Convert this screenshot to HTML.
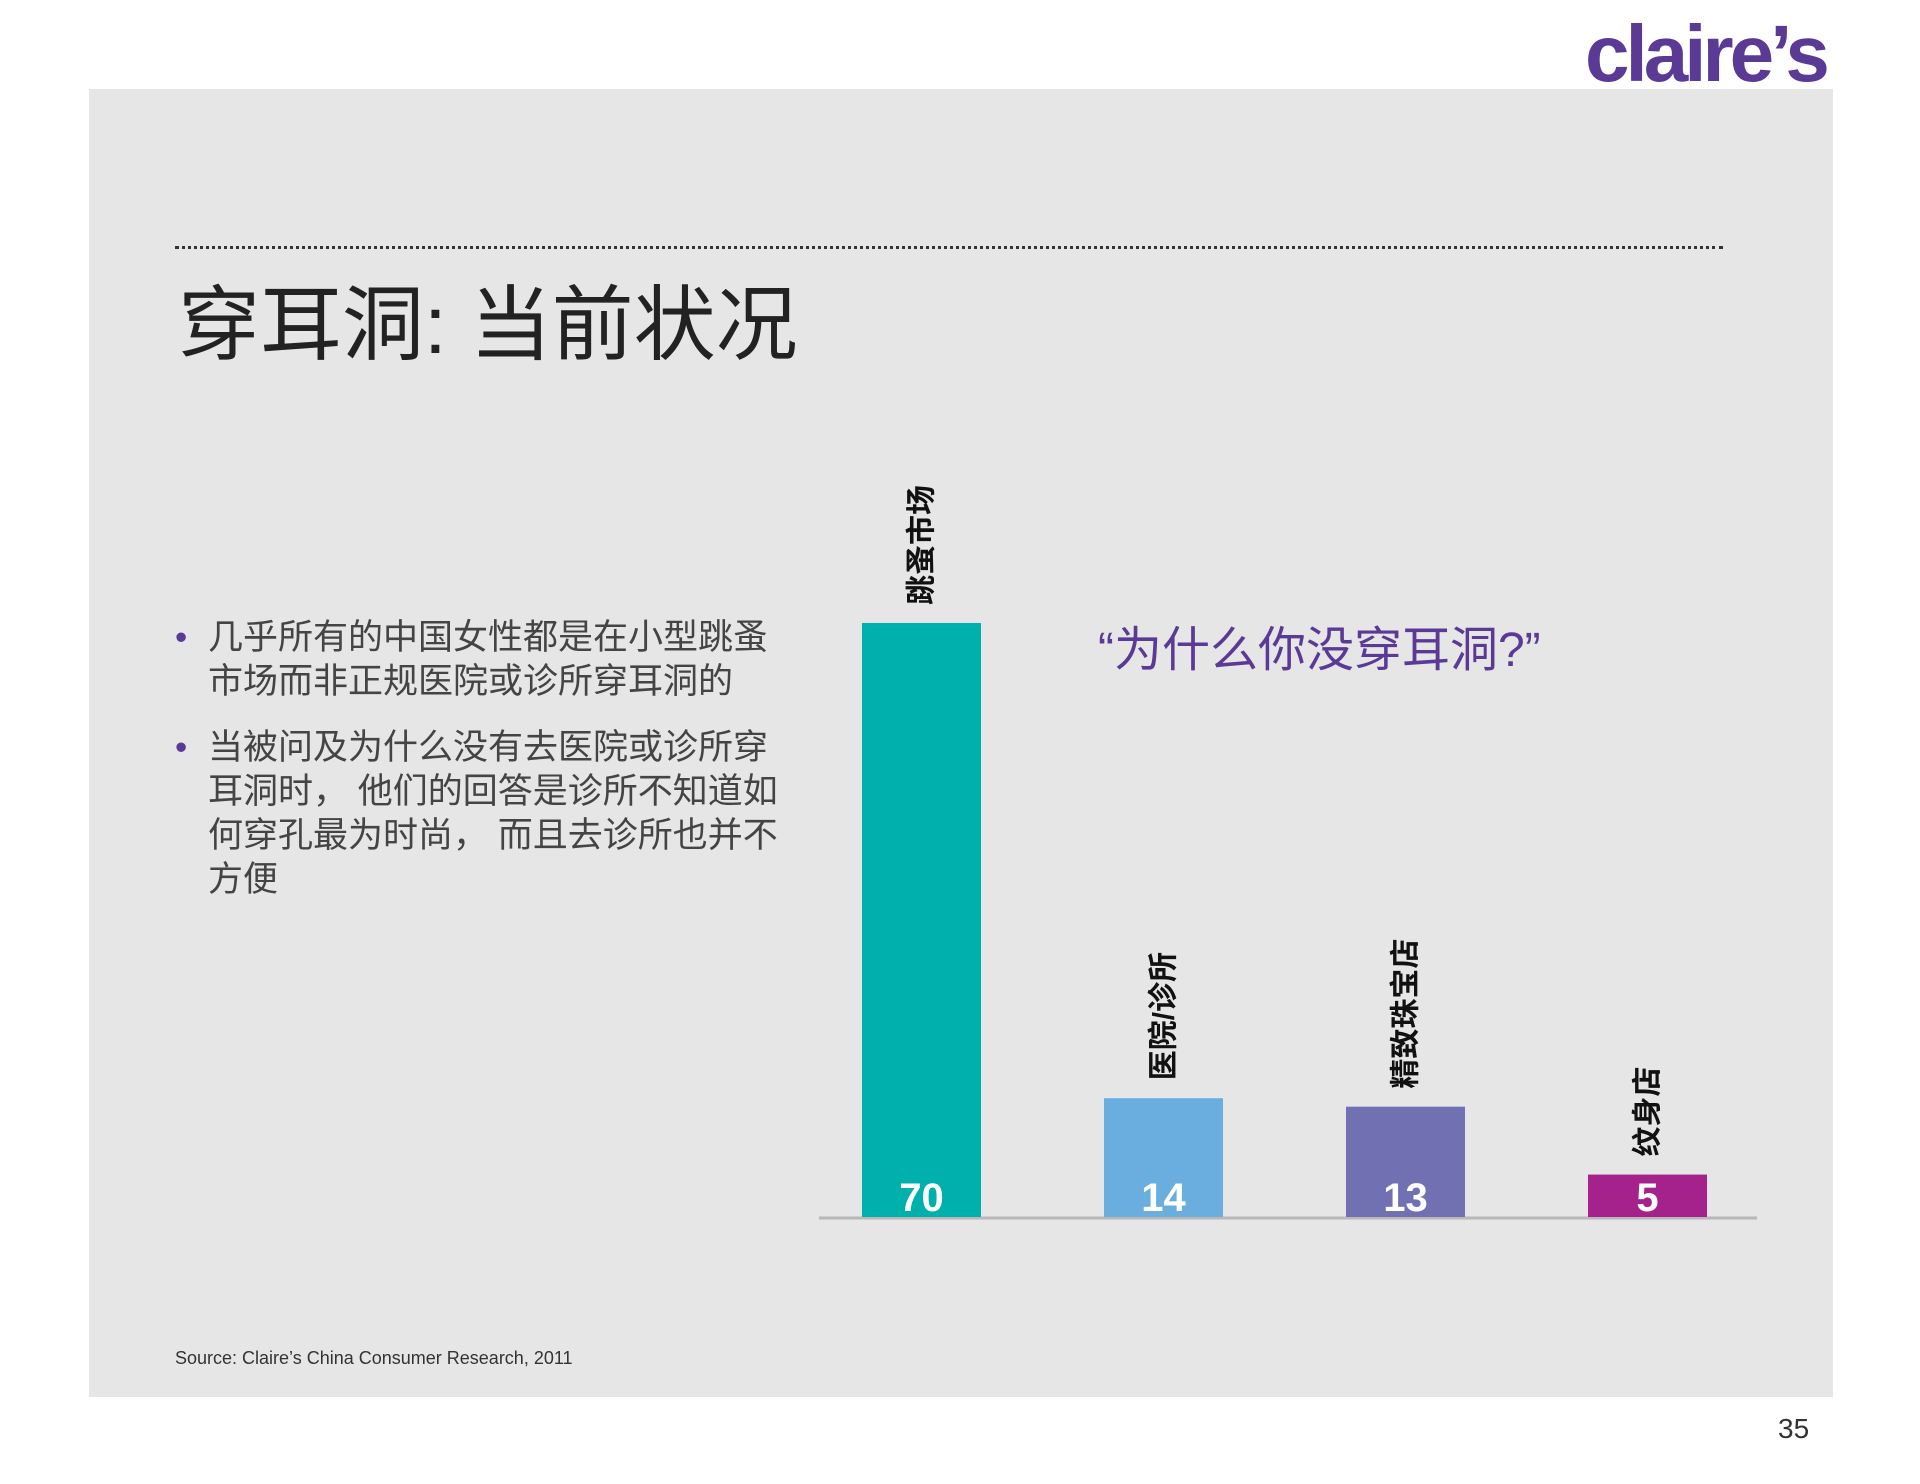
<!DOCTYPE html>
<html><head><meta charset="utf-8"><style>
body{margin:0;width:1920px;height:1484px;background:#fff;position:relative;overflow:hidden;font-family:"Liberation Sans","Noto Sans CJK SC",sans-serif}
.panel{position:absolute;left:89px;top:89px;width:1744px;height:1308px;background:#e6e6e6}
.abs{position:absolute}
</style></head><body>
<div class="panel"></div>
<div class="abs" style="left:1585px;top:8px;font:bold 80px 'Liberation Sans',sans-serif;color:#5b3a96;letter-spacing:-4px">claire’s</div>
<div class="abs" style="left:175px;top:246px;width:1548px;border-top:3px dotted #333"></div>
<div class="abs" style="left:178px;top:258px;font-size:82px;color:#222;white-space:nowrap">穿耳洞: 当前状况</div>
<div class="abs" style="left:175px;top:616px;width:610px;font-size:35px;line-height:44px;color:#444">
<div style="position:relative;padding-left:33px;margin-bottom:22px"><span style="position:absolute;left:0;color:#5b3a96">•</span>几乎所有的中国女性都是在小型跳蚤市场而非正规医院或诊所穿耳洞的</div>
<div style="position:relative;padding-left:33px"><span style="position:absolute;left:0;color:#5b3a96">•</span>当被问及为什么没有去医院或诊所穿耳洞时， 他们的回答是诊所不知道如何穿孔最为时尚， 而且去诊所也并不方便</div>
</div>
<div class="abs" style="left:1098px;top:610px;font-size:48px;color:#5b3a96;white-space:nowrap">“为什么你没穿耳洞?”</div>
<svg class="abs" style="left:0;top:0" width="1920" height="1484" id="chart"></svg>
<div class="abs" style="left:175px;top:1348px;font-size:18px;color:#333">Source:  Claire’s China Consumer Research, 2011</div>
<div class="abs" style="left:1778px;top:1413px;font-size:28px;color:#333">35</div>
<script>
const categories=["跳蚤市场","医院/诊所","精致珠宝店","纹身店"];
const values=[70,14,13,5];
const colors=["#00b0ac","#6aaee0","#7170b2","#a5228d"];
const NS="http://www.w3.org/2000/svg";
const svg=document.getElementById('chart');
const base=1217, unit=8.486, x0=862, step=242, bw=119;
function xs(i){return x0+i*step;}
function ys(v){return base-v*unit;}
const axis=document.createElementNS(NS,'line');


axis.setAttribute('x1',819);axis.setAttribute('x2',1757);axis.setAttribute('y1',base+1);axis.setAttribute('y2',base+1);
axis.setAttribute('stroke','#b8b8b8');axis.setAttribute('stroke-width',3);
svg.appendChild(axis);
values.forEach((v,i)=>{
 const r=document.createElementNS(NS,'rect');
 
 
 r.setAttribute('x',xs(i));r.setAttribute('y',ys(v));r.setAttribute('width',bw);r.setAttribute('height',base-ys(v));r.setAttribute('fill',colors[i]);
 svg.appendChild(r);
 const t=document.createElementNS(NS,'text');
 
 
 t.setAttribute('x',xs(i)+bw/2);t.setAttribute('y',base-6);t.setAttribute('text-anchor','middle');
 t.setAttribute('fill','#fff');t.setAttribute('font-size','40');t.setAttribute('font-weight','bold');
 t.setAttribute('font-family','"Liberation Sans Narrow","Liberation Sans",sans-serif');
 t.textContent=v;svg.appendChild(t);
 const l=document.createElementNS(NS,'text');
 
 
 const cx=xs(i)+bw/2+10, cy=ys(v)-18;
 l.setAttribute('transform','translate('+cx+','+cy+') rotate(-90)');
 l.setAttribute('fill','#111');l.setAttribute('font-size','30');l.setAttribute('font-weight','bold');
 l.setAttribute('font-family','"Liberation Sans","Noto Sans CJK SC",sans-serif');
 l.textContent=categories[i];svg.appendChild(l);
});
</script>
</body></html>
